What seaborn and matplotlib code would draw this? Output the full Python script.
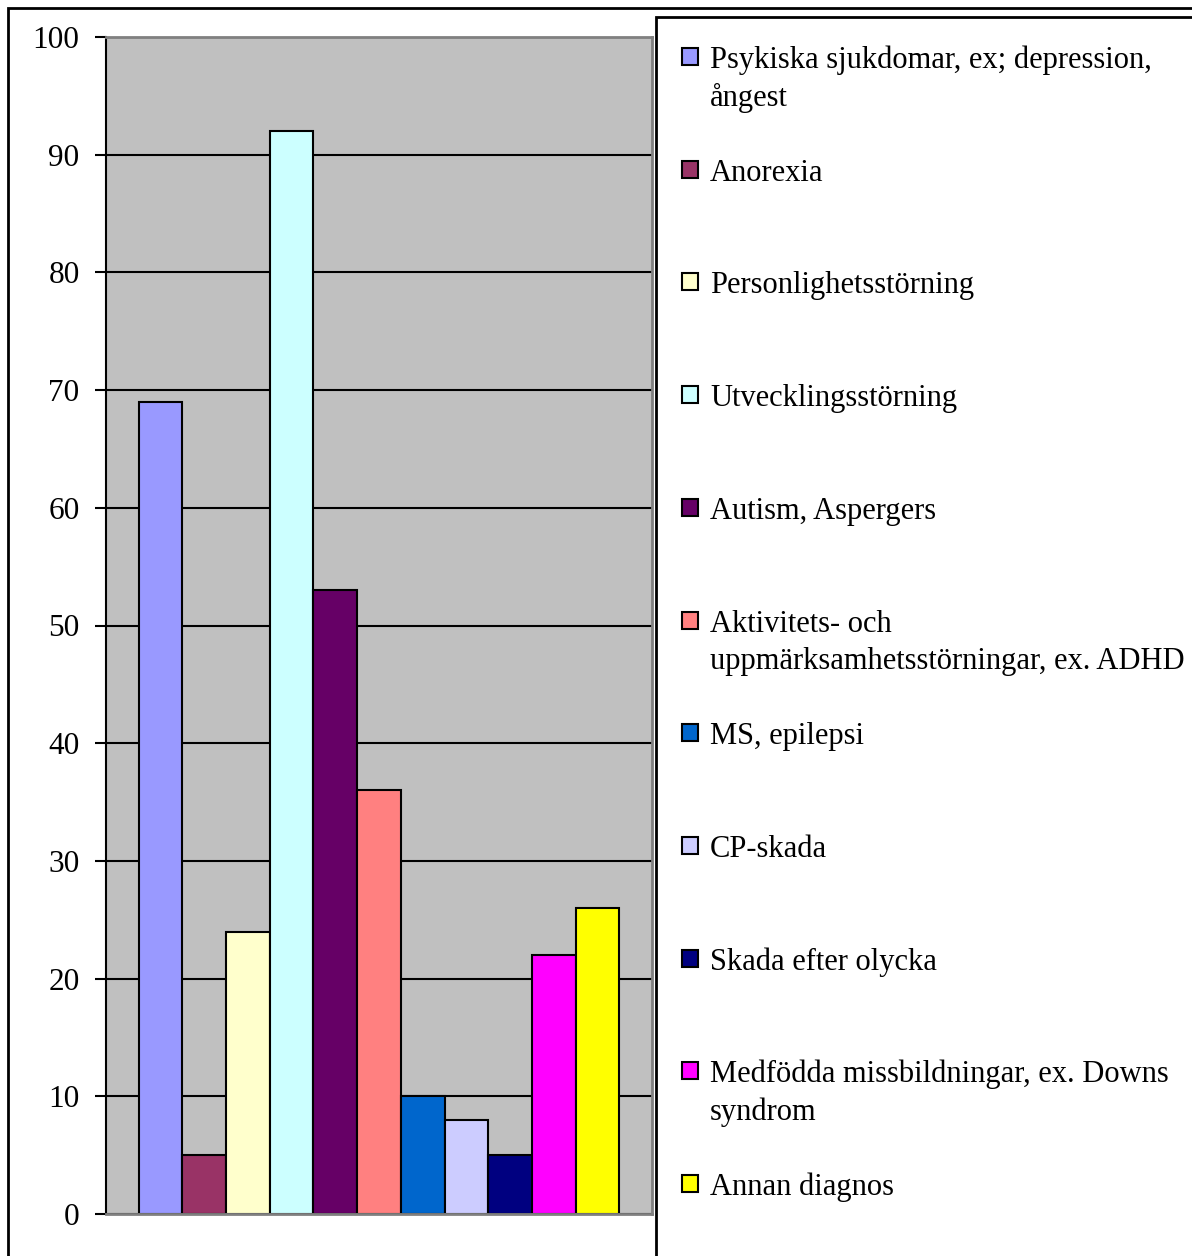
import pandas as pd
import numpy as np
import matplotlib.pyplot as plt
import matplotlib.patches as mpatches
import seaborn as sns

# Data
diagnoses = [
    "Psykiska sjukdomar, ex; depression,\nångest",
    "Anorexia",
    "Personlighetsstörning",
    "Utvecklingsstörning",
    "Autism, Aspergers",
    "Aktivitets- och\nuppmärksamhetsstörningar, ex. ADHD",
    "MS, epilepsi",
    "CP-skada",
    "Skada efter olycka",
    "Medfödda missbildningar, ex. Downs\nsyndrom",
    "Annan diagnos",
]
values = [69, 5, 24, 92, 53, 36, 10, 8, 5, 22, 26]
colors = ["#9999FF", "#993366", "#FFFFCC", "#CCFFFF", "#660066", "#FF8080",
          "#0066CC", "#CCCCFF", "#000080", "#FF00FF", "#FFFF00"]
yticks = [0, 10, 20, 30, 40, 50, 60, 70, 80, 90, 100]

df = pd.DataFrame({"grp": [""] * len(values), "diag": diagnoses, "value": values})

sns.set_style("white")
plt.rcParams['font.family'] = ['Liberation Serif', 'DejaVu Serif']
plt.rcParams['text.color'] = 'black'
plt.rcParams['ytick.labelcolor'] = 'black'

W, H = 1192, 1256
fig = plt.figure(figsize=(W / 100, H / 100), dpi=100)
ax = fig.add_axes([106 / W, 1 - 1214 / H, (652 - 106) / W, (1214 - 37) / H])
ax.set_facecolor("#C0C0C0")

sns.barplot(data=df, x="grp", y="value", hue="diag", hue_order=diagnoses,
            palette=colors, width=0.88, gap=0, edgecolor="black", linewidth=1.5,
            saturation=1, legend=False, ax=ax)

ax.set_xlim(-0.5, 0.5)
ax.set_ylim(0, 100)
ax.set_yticks(yticks)
ax.set_xticks([])
ax.set_xlabel("")
ax.set_ylabel("")
ax.tick_params(axis="y", labelsize=22.5, length=8, width=1.5, color="black",
               labelcolor="black", direction="out", left=True, pad=11)
ax.yaxis.grid(True, color="black", linewidth=1.5)
ax.set_axisbelow(True)
for s in ["top", "right", "bottom"]:
    ax.spines[s].set_color("#808080")
    ax.spines[s].set_linewidth(2)
ax.spines["left"].set_color("black")
ax.spines["left"].set_linewidth(1.5)

# outer chart border
fig.add_artist(mpatches.Rectangle((8 / W, -0.1), 2, 1.1 - 8 / H, fill=False,
                                  edgecolor="black", linewidth=2,
                                  transform=fig.transFigure))
# legend box
fig.add_artist(mpatches.Rectangle((656 / W, -0.1), 1, 1.1 - 17 / H, fill=False,
                                  edgecolor="black", linewidth=2,
                                  transform=fig.transFigure))

# legend entries (handle aligned with first text line)
for i, (lab, col) in enumerate(zip(diagnoses, colors)):
    base = 68 + i * 112.7
    fig.add_artist(mpatches.Rectangle((682 / W, 1 - (base - 3) / H), 16 / W, 17 / H,
                                      facecolor=col, edgecolor="black", linewidth=1.5,
                                      transform=fig.transFigure))
    for j, line in enumerate(lab.split("\n")):
        fig.text(710 / W, 1 - (base + j * 38) / H, line, fontsize=22,
                 va="baseline", ha="left", color="black")

fig.savefig("out.png", dpi=100)
